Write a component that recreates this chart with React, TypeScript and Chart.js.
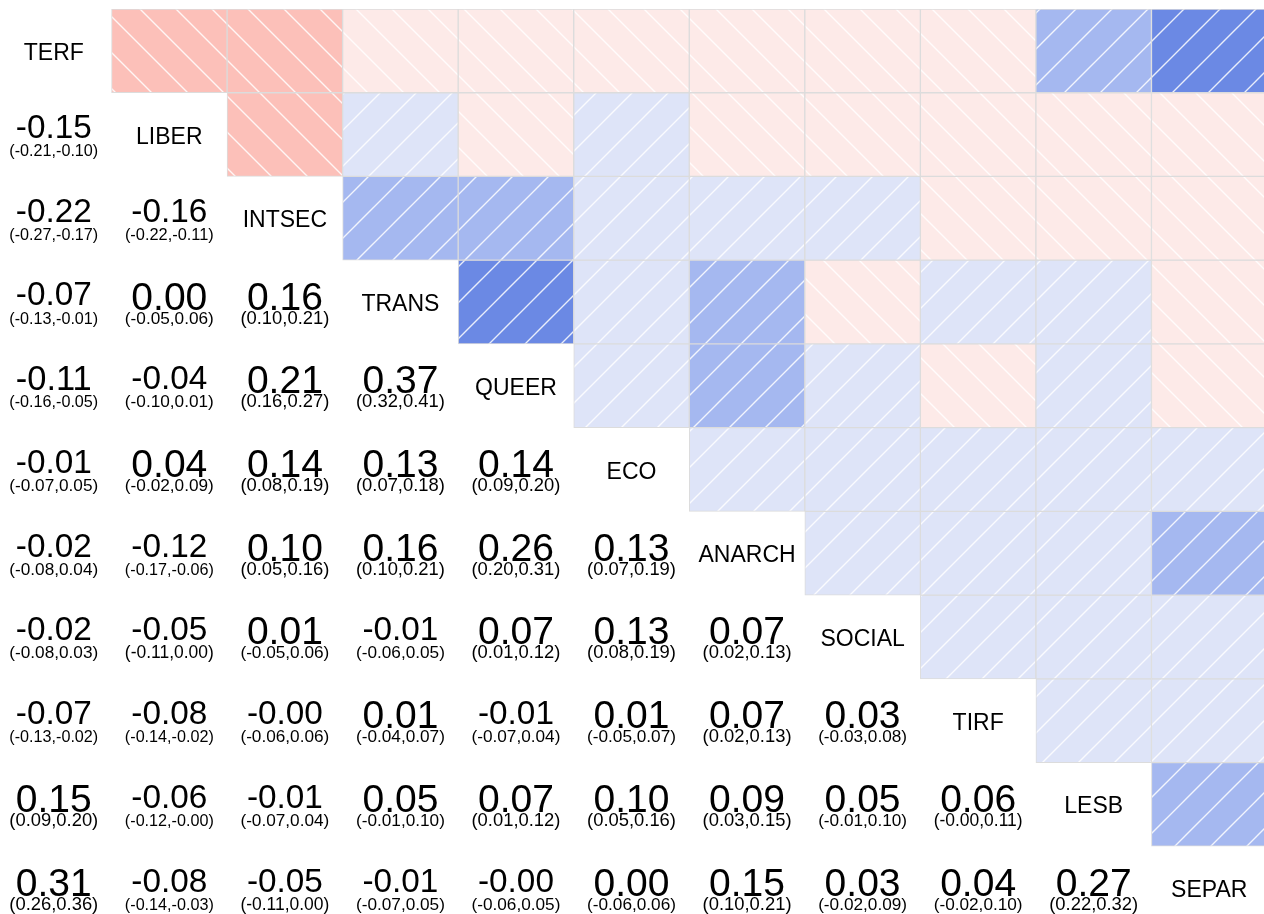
import React, { useEffect, useRef } from 'react';
import { Chart, registerables } from 'chart.js';

Chart.register(...registerables);

const LABELS = ['TERF', 'LIBER', 'INTSEC', 'TRANS', 'QUEER', 'ECO', 'ANARCH', 'SOCIAL', 'TIRF', 'LESB', 'SEPAR'];

// lower triangle: correlation with each earlier variable, plus CI bounds
const R_TERF: number[] = [];
const LO_TERF: number[] = [];
const HI_TERF: number[] = [];

const R_LIBER = [-0.15];
const LO_LIBER = [-0.21];
const HI_LIBER = [-0.10];

const R_INTSEC = [-0.22, -0.16];
const LO_INTSEC = [-0.27, -0.22];
const HI_INTSEC = [-0.17, -0.11];

const R_TRANS = [-0.07, 0.00, 0.16];
const LO_TRANS = [-0.13, -0.05, 0.10];
const HI_TRANS = [-0.01, 0.06, 0.21];

const R_QUEER = [-0.11, -0.04, 0.21, 0.37];
const LO_QUEER = [-0.16, -0.10, 0.16, 0.32];
const HI_QUEER = [-0.05, 0.01, 0.27, 0.41];

const R_ECO = [-0.01, 0.04, 0.14, 0.13, 0.14];
const LO_ECO = [-0.07, -0.02, 0.08, 0.07, 0.09];
const HI_ECO = [0.05, 0.09, 0.19, 0.18, 0.20];

const R_ANARCH = [-0.02, -0.12, 0.10, 0.16, 0.26, 0.13];
const LO_ANARCH = [-0.08, -0.17, 0.05, 0.10, 0.20, 0.07];
const HI_ANARCH = [0.04, -0.06, 0.16, 0.21, 0.31, 0.19];

const R_SOCIAL = [-0.02, -0.05, 0.01, -0.01, 0.07, 0.13, 0.07];
const LO_SOCIAL = [-0.08, -0.11, -0.05, -0.06, 0.01, 0.08, 0.02];
const HI_SOCIAL = [0.03, 0.00, 0.06, 0.05, 0.12, 0.19, 0.13];

const R_TIRF = [-0.07, -0.08, -0.003, 0.01, -0.01, 0.01, 0.07, 0.03];
const LO_TIRF = [-0.13, -0.14, -0.06, -0.04, -0.07, -0.05, 0.02, -0.03];
const HI_TIRF = [-0.02, -0.02, 0.06, 0.07, 0.04, 0.07, 0.13, 0.08];

const R_LESB = [0.15, -0.06, -0.01, 0.05, 0.07, 0.10, 0.09, 0.05, 0.06];
const LO_LESB = [0.09, -0.12, -0.07, -0.01, 0.01, 0.05, 0.03, -0.01, -0.003];
const HI_LESB = [0.20, -0.003, 0.04, 0.10, 0.12, 0.16, 0.15, 0.10, 0.11];

const R_SEPAR = [0.31, -0.08, -0.05, -0.01, -0.003, 0.00, 0.15, 0.03, 0.04, 0.27];
const LO_SEPAR = [0.26, -0.14, -0.11, -0.07, -0.06, -0.06, 0.10, -0.02, -0.02, 0.22];
const HI_SEPAR = [0.36, -0.03, 0.00, 0.05, 0.05, 0.06, 0.21, 0.09, 0.10, 0.32];

const R_ROWS = [R_TERF, R_LIBER, R_INTSEC, R_TRANS, R_QUEER, R_ECO, R_ANARCH, R_SOCIAL, R_TIRF, R_LESB, R_SEPAR];
const LO_ROWS = [LO_TERF, LO_LIBER, LO_INTSEC, LO_TRANS, LO_QUEER, LO_ECO, LO_ANARCH, LO_SOCIAL, LO_TIRF, LO_LESB, LO_SEPAR];
const HI_ROWS = [HI_TERF, HI_LIBER, HI_INTSEC, HI_TRANS, HI_QUEER, HI_ECO, HI_ANARCH, HI_SOCIAL, HI_TIRF, HI_LESB, HI_SEPAR];

const corr = (a: number, b: number) => (a > b ? R_ROWS[a][b] : R_ROWS[b][a]);

const FONT = '"Liberation Sans", Arial, Helvetica, sans-serif';

export default function App() {
  const ref = useRef<HTMLCanvasElement>(null);

  useEffect(() => {
    const canvas = ref.current!;
    const cache: Record<string, CanvasPattern> = {};
    const makePattern = (bg: string, up: boolean): CanvasPattern => {
      const key = bg + (up ? 'u' : 'd');
      if (cache[key]) return cache[key];
      const s = 36;
      const t = document.createElement('canvas');
      t.width = s;
      t.height = s;
      const c = t.getContext('2d')!;
      c.fillStyle = bg;
      c.fillRect(0, 0, s, s);
      c.strokeStyle = 'rgba(255,255,255,0.85)';
      c.lineWidth = 1.4;
      c.beginPath();
      for (const k of [-s, 0, s]) {
        if (up) {
          c.moveTo(-2 + k, s + 2);
          c.lineTo(s + 2 + k, -2);
        } else {
          c.moveTo(-2 + k, -2);
          c.lineTo(s + 2 + k, s + 2);
        }
      }
      c.stroke();
      const p = canvas.getContext('2d')!.createPattern(t, 'repeat')!;
      cache[key] = p;
      return p;
    };
    const fillFor = (r: number) => {
      const a = Math.abs(r);
      if (r >= 0) {
        if (a >= 0.3) return makePattern('#6b89e4', true);
        if (a >= 0.145) return makePattern('#a5b8f0', true);
        return makePattern('#dee4f8', true);
      }
      if (a >= 0.145) return makePattern('#fcc0b9', false);
      return makePattern('#fdeae8', false);
    };

    const datasets = LABELS.slice(0, LABELS.length - 1).map((_, i) => ({
      label: LABELS[i],
      data: LABELS.map((__, j) => (j > i ? [i, i + 1] : null)) as any,
      backgroundColor: LABELS.map((__, j) => (j > i ? fillFor(corr(i, j)) : 'rgba(0,0,0,0)')) as any,
      borderColor: '#dcdcdc',
      borderWidth: 1,
      borderSkipped: false as any,
      grouped: false,
      barPercentage: 1,
      categoryPercentage: 1,
    }));

    const textPlugin = {
      id: 'cellText',
      afterDatasetsDraw(chart: any) {
        const ctx: CanvasRenderingContext2D = chart.ctx;
        const xs = chart.scales.x;
        const ys = chart.scales.y;
        ctx.save();
        ctx.fillStyle = '#000';
        ctx.textAlign = 'center';
        ctx.textBaseline = 'alphabetic';
        const fit = (txt: string, w: number) => {
          ctx.font = `100px ${FONT}`;
          return (w * 100) / ctx.measureText(txt).width;
        };
        for (let i = 0; i < LABELS.length; i++) {
          const cy = ys.getPixelForValue(i + 0.5);
          // diagonal label
          const cxd = xs.getPixelForValue(i);
          ctx.font = `23px ${FONT}`;
          ctx.fillText(LABELS[i], cxd, cy + 9);
          for (let j = 0; j < i; j++) {
            const cx = xs.getPixelForValue(j);
            const val = R_ROWS[i][j].toFixed(2);
            const f = fit(val, 76);
            ctx.font = `${f}px ${FONT}`;
            ctx.fillText(val, cx, cy - 20.5 + 0.716 * f);
            const ci = `(${LO_ROWS[i][j].toFixed(2)},${HI_ROWS[i][j].toFixed(2)})`;
            const f2 = fit(ci, 89);
            ctx.font = `${f2}px ${FONT}`;
            ctx.fillText(ci, cx, cy + 21.5);
          }
        }
        ctx.restore();
      },
    };

    const chart = new Chart(canvas, {
      type: 'bar',
      data: { labels: LABELS, datasets },
      options: {
        animation: false,
        responsive: false,
        maintainAspectRatio: false,
        layout: { padding: 0 },
        plugins: { legend: { display: false }, tooltip: { enabled: false } },
        scales: {
          x: { type: 'category', offset: true, display: false },
          y: { type: 'linear', min: 0, max: LABELS.length, reverse: true, display: false },
        },
      },
      plugins: [textPlugin],
    });
    return () => chart.destroy();
  }, []);

  return (
    <div style={{ position: 'fixed', left: 0, top: 0, width: 1264, height: 914, overflow: 'hidden', background: '#fff' }}>
      <div style={{ position: 'absolute', left: -4, top: 9, width: 1271, height: 921 }}>
        <canvas ref={ref} width={1271} height={921} style={{ display: 'block', width: 1271, height: 921 }} />
      </div>
    </div>
  );
}
